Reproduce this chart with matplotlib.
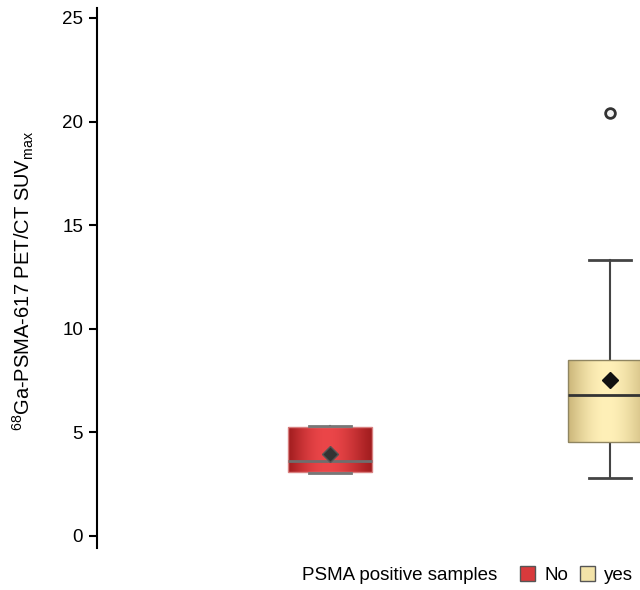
import numpy as np
import matplotlib
matplotlib.use("Agg")
import matplotlib.pyplot as plt
from matplotlib.patches import Patch

plt.rcParams["font.family"] = ["Liberation Sans", "DejaVu Sans"]
plt.rcParams["mathtext.fontset"] = "custom"
plt.rcParams["mathtext.rm"] = "Liberation Sans"
plt.rcParams["mathtext.it"] = "Liberation Sans"

# ── Data ─────────────────────────────────────────────────────────────────────
groups = ["No", "yes"]
whisker_low = [3.04, 2.81]
q1 = [3.09, 4.55]
medians = [3.62, 6.8]
q3 = [5.26, 8.49]
whisker_high = [5.31, 13.3]
means = [3.96, 7.53]
outliers = [[], [20.4]]

# ── Styling ──────────────────────────────────────────────────────────────────
dark_cols = ["#a01c1e", "#cbb67a"]
light_cols = ["#eb4649", "#fff0b8"]
edge_cols = ["#d88080", "#8f8561"]
median_cols = ["#6e6e6e", "#333333"]
mean_cols = ["#333333", "#111111"]
cap_cols = ["#777777", "#444444"]
legend_cols = ["#d93a3c", "#f3e3a8"]

fig = plt.figure(figsize=(6.4, 5.9), dpi=100)
ax = fig.add_axes([97 / 640, 42 / 590, 1 - 97 / 640, 540 / 590])

stats = []
for i, g in enumerate(groups):
    stats.append(dict(label=g, whislo=whisker_low[i], q1=q1[i], med=medians[i],
                      q3=q3[i], whishi=whisker_high[i], mean=means[i],
                      fliers=outliers[i]))

positions = [1, 2]
bp = ax.bxp(stats, positions=positions, widths=0.3, patch_artist=True,
            showmeans=False, capwidths=0.15)

for i, box in enumerate(bp["boxes"]):
    box.set_facecolor("none")
    box.set_edgecolor(edge_cols[i])
    box.set_linewidth(1.0)
    box.set_zorder(3)
    # horizontal cylinder-like gradient clipped to the box
    t = np.linspace(0, 1, 256)
    w = np.sin(np.pi * t ** 0.9) ** 1.2
    c0 = np.array(matplotlib.colors.to_rgb(dark_cols[i]))
    c1 = np.array(matplotlib.colors.to_rgb(light_cols[i]))
    img = (c0[None, :] * (1 - w[:, None]) + c1[None, :] * w[:, None])[None, :, :]
    p = positions[i]
    im = ax.imshow(img, extent=[p - 0.15, p + 0.15, q1[i], q3[i]],
                   aspect="auto", zorder=2, interpolation="bilinear")
    im.set_clip_path(box)

for i in range(2):
    for wk in bp["whiskers"][2 * i:2 * i + 2]:
        wk.set_color("#444444")
        wk.set_linewidth(1.5)
        wk.set_zorder(1)
    for cp in bp["caps"][2 * i:2 * i + 2]:
        cp.set_color(cap_cols[i])
        cp.set_linewidth(2.0)
        cp.set_zorder(4)
    bp["medians"][i].set_color(median_cols[i])
    bp["medians"][i].set_linewidth(2.0)
    bp["medians"][i].set_zorder(4)
    fl = bp["fliers"][i]
    fl.set_marker("o")
    fl.set_markersize(7)
    fl.set_markerfacecolor("#f4f4f4")
    fl.set_markeredgecolor("#333333")
    fl.set_markeredgewidth(2.0)
    ax.plot([positions[i]], [means[i]], marker="D", markersize=8,
            color=mean_cols[i], markeredgecolor="#555555" if i == 0 else mean_cols[i],
            markeredgewidth=1.0, zorder=5)

ax.set_xlim(0.168, 2.107)
ax.set_ylim(-0.58, 25.48)
ax.set_yticks([0, 5, 10, 15, 20, 25])
ax.tick_params(axis="y", labelsize=13.5, length=6, width=1.5, direction="out",
               pad=4)
ax.set_xticks([])
for s in ["top", "right", "bottom"]:
    ax.spines[s].set_visible(False)
ax.spines["left"].set_linewidth(1.5)
ax.set_ylabel(r"$^{68}$Ga-PSMA-617 PET/CT SUV$_{\mathrm{max}}$", fontsize=14.5)
ax.yaxis.set_label_coords(-0.112, 0.494)

# legend at bottom
fig.text(302 / 640, 15 / 590, "PSMA positive samples", fontsize=13.5,
         ha="left", va="center")
handles = [Patch(facecolor=legend_cols[i], edgecolor="#555555", label=g)
           for i, g in enumerate(groups)]
fig.legend(handles=handles, loc="center left", bbox_to_anchor=(520 / 640, 15 / 590),
           ncol=2, frameon=False, fontsize=13.5, handlelength=0.8,
           handleheight=0.8, handletextpad=0.5, columnspacing=0.6,
           borderpad=0, borderaxespad=0)

fig.savefig("out.png", dpi=100)
